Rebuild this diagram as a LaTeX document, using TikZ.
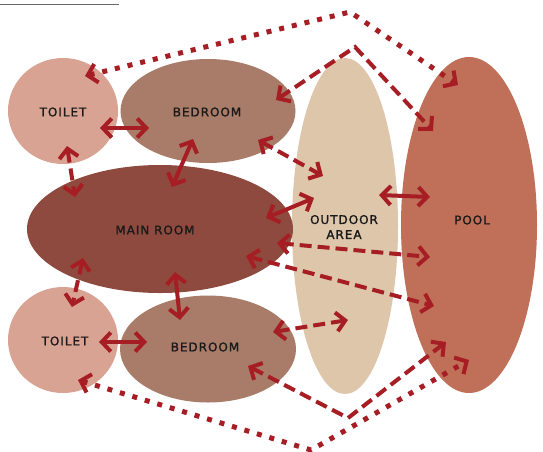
\documentclass[tikz,border=0pt]{standalone}
\usepackage{fontspec}
\newfontfamily\roomfont[LetterSpace=8,FakeBold=1.2]{DejaVu Sans}
\usetikzlibrary{arrows.meta,shapes.geometric}

\definecolor{toiletc}{RGB}{217,163,147}
\definecolor{bedc}{RGB}{168,124,104}
\definecolor{mainc}{RGB}{142,74,62}
\definecolor{outc}{RGB}{221,198,170}
\definecolor{poolc}{RGB}{192,112,88}
\definecolor{linkc}{RGB}{166,30,36}
\definecolor{rulec}{RGB}{105,105,105}

\begin{document}
\begin{tikzpicture}[x=1pt,y=-1pt,
  room/.style={ellipse, inner sep=0pt, draw=none},
  lbl/.style={font=\roomfont\fontsize{12}{15}\selectfont, text=black!90, align=center, inner sep=0pt},
  link/.style={draw=linkc, line width=4pt, {Straight Barb[length=9pt,width=19pt,line width=4pt]}-{Straight Barb[length=9pt,width=19pt,line width=4pt]}},
  dashlink/.style={link, dash pattern=on 12pt off 6pt},
  dotlink/.style={link, line width=5pt, dash pattern=on 5pt off 8pt}]

\useasboundingbox (0,0) rectangle (543,451);
\fill[white] (0,0) rectangle (543,451);

% heading rule
\coordinate (ruleA) at (0,4.5);
\coordinate (ruleB) at (119,4.5);
\draw[rulec, line width=1.6pt] (ruleA) -- (ruleB);

% rooms
\node[room, fill=outc, minimum width=106pt, minimum height=336pt] (outdoor) at (345,226) {};
\node[room, fill=poolc, minimum width=136pt, minimum height=336pt] (pool) at (469,225) {};
\node[room, fill=toiletc, minimum width=110pt, minimum height=106pt] (toiletA) at (63,111) {};
\node[room, fill=toiletc, minimum width=110pt, minimum height=106pt] (toiletB) at (63,340) {};
\node[room, fill=bedc, minimum width=175pt, minimum height=104pt] (bedA) at (208,111) {};
\node[room, fill=bedc, minimum width=176pt, minimum height=107pt] (bedB) at (208,349) {};
\node[room, fill=mainc, minimum width=266pt, minimum height=128pt] (main) at (160,229) {};

% labels
\node[lbl] (toiletAtxt) at (63,112) {TOILET};
\node[lbl] (bedAtxt) at (207,112) {BEDROOM};
\node[lbl] (maintxt) at (155,230) {MAIN ROOM};
\node[lbl] (outdoortxt) at (344,227) {OUTDOOR\\AREA};
\node[lbl] (pooltxt) at (472,220) {POOL};
\node[lbl] (toiletBtxt) at (65,341) {TOILET};
\node[lbl] (bedBtxt) at (205,347) {BEDROOM};

% connector end points
\coordinate (tA-bA) at (100,128);  \coordinate (bA-tA) at (149,128);
\coordinate (bA-m)  at (193,139);  \coordinate (m-bA)  at (172,187);
\coordinate (tA-m)  at (67,146);   \coordinate (m-tA)  at (75,197);
\coordinate (m-tB)  at (83,258);   \coordinate (tB-m)  at (72,307);
\coordinate (m-bB)  at (175,272);  \coordinate (bB-m)  at (180,320);
\coordinate (tB-bB) at (99,342);   \coordinate (bB-tB) at (147,342);
\coordinate (m-o)   at (266,218);  \coordinate (o-m)   at (314,198);
\coordinate (o-p)   at (379,195);  \coordinate (p-o)   at (430,197);
\coordinate (m-p1)  at (277,243);  \coordinate (p-m1)  at (430,257);
\coordinate (m-p2)  at (246,256);  \coordinate (p-m2)  at (434,306);
\coordinate (bB-o)  at (273,332);  \coordinate (o-bB)  at (348,320);
\coordinate (bA-o)  at (258,140);  \coordinate (o-bA)  at (323,176);
\coordinate (bA-p)  at (276,100);  \coordinate (topdash) at (355,47);  \coordinate (p-bA) at (433,131);
\coordinate (tA-p)  at (85,76);    \coordinate (topdot)  at (350,12);  \coordinate (p-tA) at (458,85);
\coordinate (bB-p)  at (248,366);  \coordinate (botdash) at (348,418); \coordinate (p-bB) at (446,342);
\coordinate (tB-p)  at (78,380);   \coordinate (botdot)  at (311,450); \coordinate (p-tB) at (469,360);

% solid links
\draw[link] (tA-bA) -- (bA-tA);
\draw[link] (bA-m) -- (m-bA);
\draw[link] (m-bB) -- (bB-m);
\draw[link] (tB-bB) -- (bB-tB);
\draw[link] (m-o) -- (o-m);
\draw[link] (o-p) -- (p-o);

% dashed links
\draw[dashlink] (tA-m) -- (m-tA);
\draw[dashlink] (m-tB) -- (tB-m);
\draw[dashlink] (m-p1) -- (p-m1);
\draw[dashlink] (m-p2) -- (p-m2);
\draw[dashlink] (bB-o) -- (o-bB);
\draw[dashlink] (bA-o) -- (o-bA);
\draw[dashlink] (bA-p) -- (topdash) -- (p-bA);
\draw[dashlink] (bB-p) -- (botdash) -- (p-bB);

% dotted links
\draw[dotlink] (tA-p) -- (topdot) -- (p-tA);
\draw[dotlink] (tB-p) -- (botdot) -- (p-tB);
\end{tikzpicture}
\end{document}
